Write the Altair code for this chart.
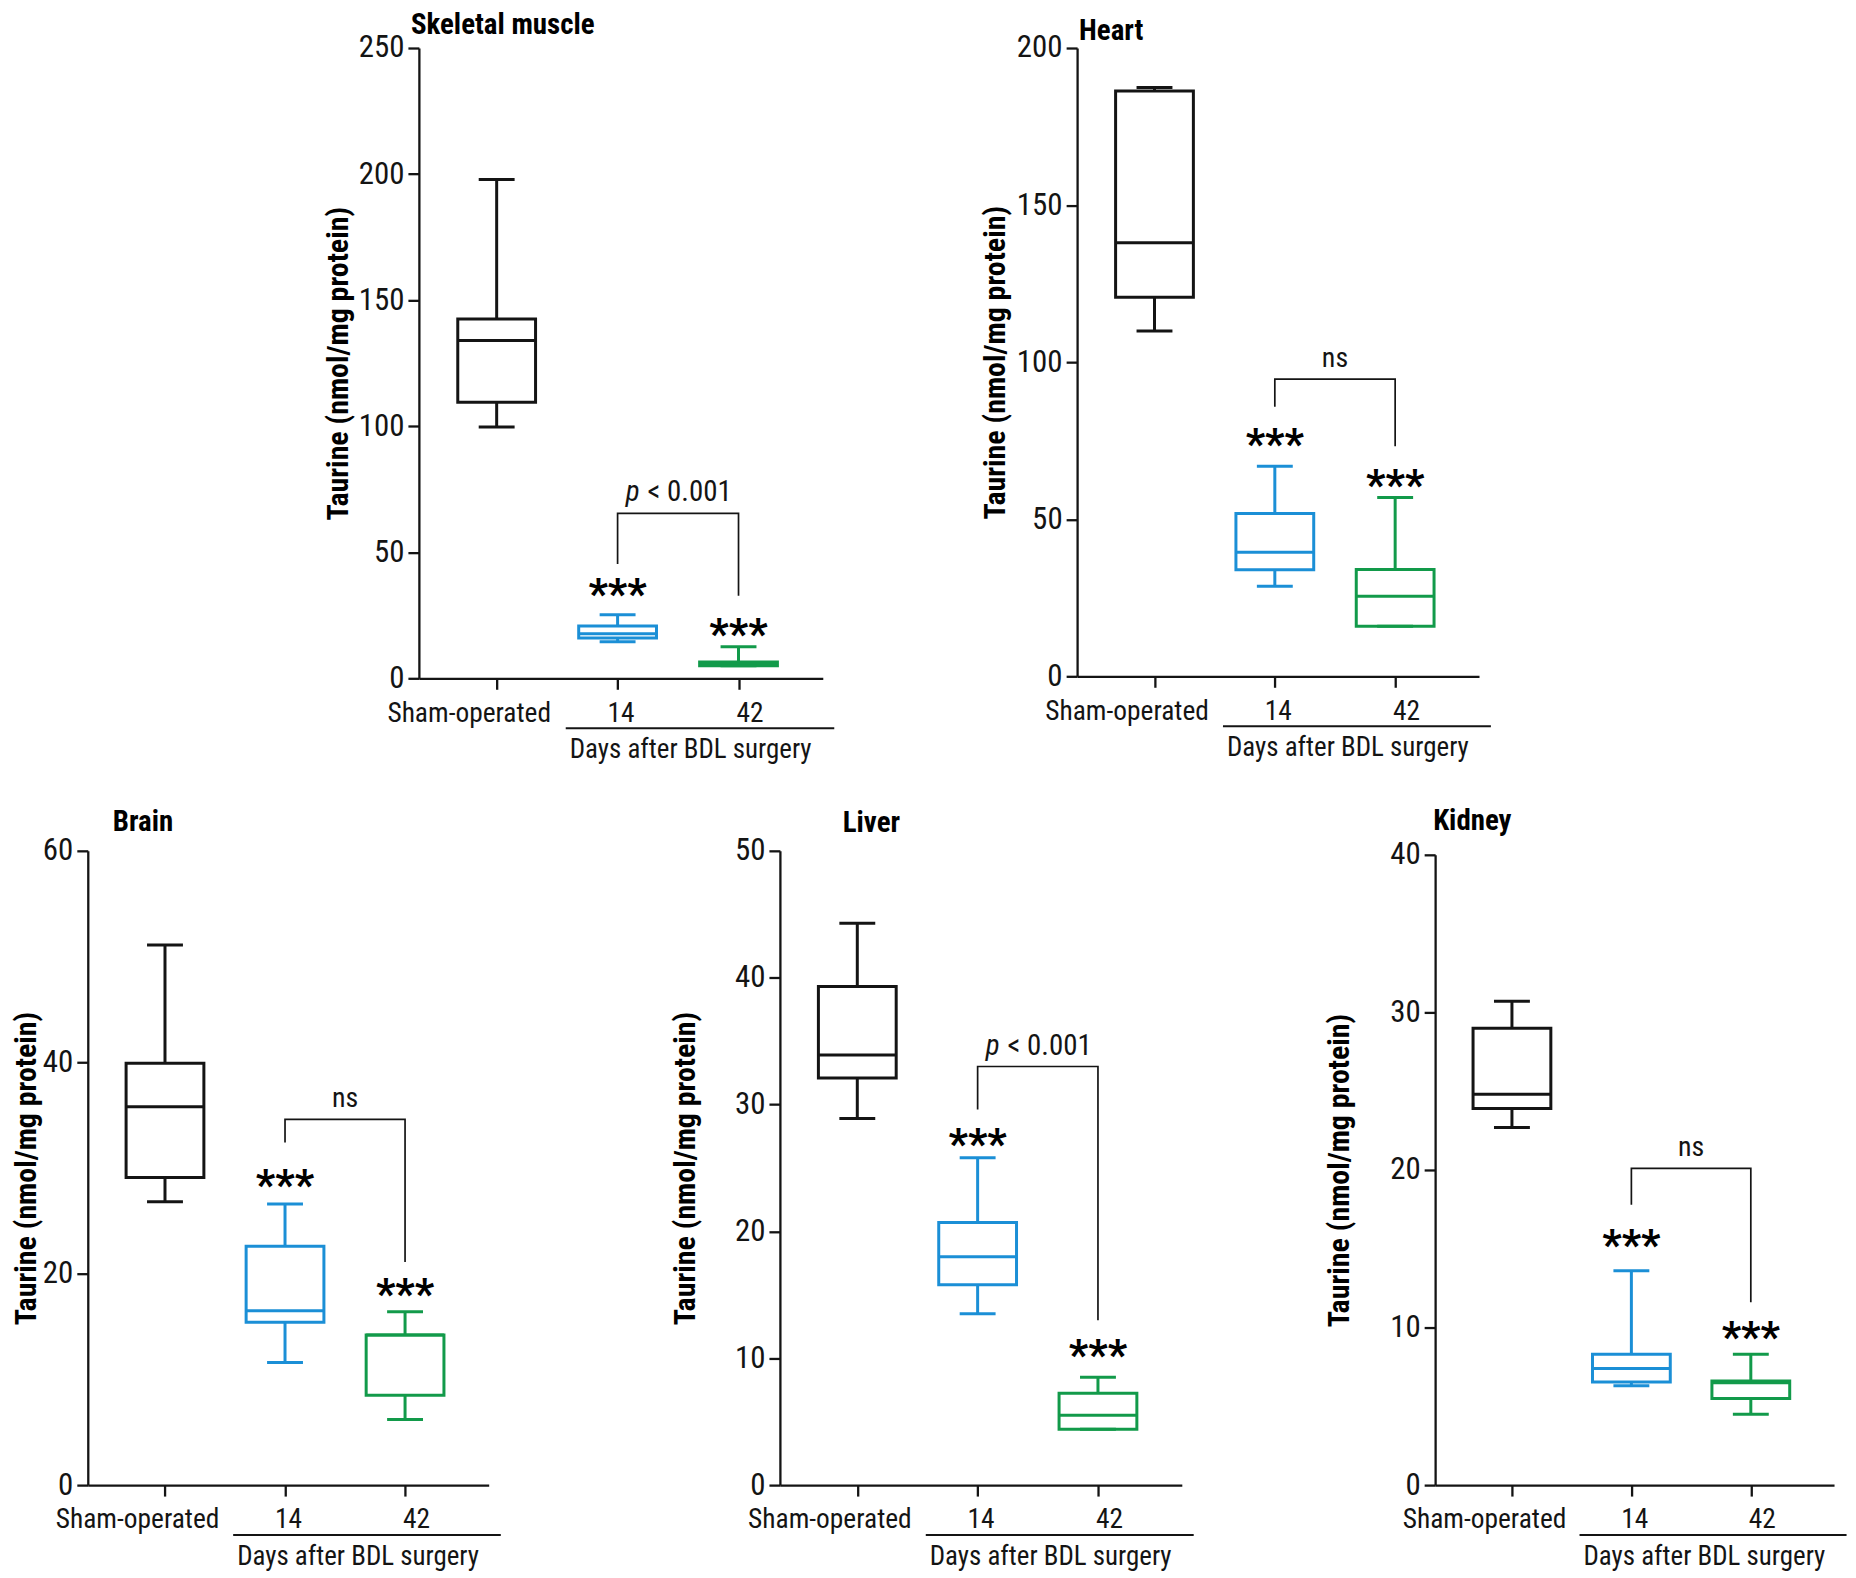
import altair as alt
import pandas as pd

FONT = "Liberation Sans Narrow, Arial Narrow, Roboto Condensed, DejaVu Sans Condensed, sans-serif"
INK = "#141414"

CATS = ["Sham-operated", "14", "42"]
COLORS = [INK, "#1b8fd6", "#129a4a"]
YTITLE = "Taurine (nmol/mg protein)"
XSUB = "Days after BDL surgery"

# ---- Skeletal muscle ----
SKM_LO = [99.7, 14.5, 5.0]
SKM_Q1 = [109.5, 16.0, 5.0]
SKM_MED = [134.0, 17.7, 5.8]
SKM_Q3 = [142.5, 20.7, 6.5]
SKM_HI = [197.8, 25.2, 12.5]
SKM_BRACKET = [45.3, 65.4, 65.4, 32.7]
SKM_STARS = [37.2, 21.5]

# ---- Heart ----
HRT_LO = [109.9, 28.7, 15.9]
HRT_Q1 = [120.7, 33.9, 15.9]
HRT_MED = [138.0, 39.5, 25.5]
HRT_Q3 = [186.3, 51.8, 34.0]
HRT_HI = [187.4, 66.9, 56.9]
HRT_BRACKET = [85.8, 94.6, 94.6, 73.2]
HRT_STARS = [77.0, 64.0]

# ---- Brain ----
BRN_LO = [26.8, 11.6, 6.2]
BRN_Q1 = [29.1, 15.4, 8.5]
BRN_MED = [35.8, 16.5, 14.2]
BRN_Q3 = [39.9, 22.6, 14.2]
BRN_HI = [51.1, 26.6, 16.4]
BRN_BRACKET = [32.4, 34.6, 34.6, 21.1]
BRN_STARS = [29.3, 19.0]

# ---- Liver ----
LIV_LO = [28.9, 13.5, 4.4]
LIV_Q1 = [32.1, 15.8, 4.4]
LIV_MED = [33.9, 18.0, 5.5]
LIV_Q3 = [39.3, 20.7, 7.25]
LIV_HI = [44.3, 25.8, 8.5]
LIV_BRACKET = [29.6, 33.0, 33.0, 13.0]
LIV_STARS = [27.7, 11.05]

# ---- Kidney ----
KID_LO = [22.7, 6.3, 4.5]
KID_Q1 = [23.9, 6.55, 5.5]
KID_MED = [24.8, 7.4, 6.5]
KID_Q3 = [29.0, 8.3, 6.6]
KID_HI = [30.7, 13.6, 8.3]
KID_BRACKET = [17.8, 20.1, 20.1, 11.6]
KID_STARS = [15.9, 10.0]

PAD = 0.67


def panel(title, lo, q1, med, q3, hi, bracket, stars, label, ymax, ystep,
          W, H, title_dx, title_dy, ytitle_x, ytop=0):
    box = pd.DataFrame({"group": CATS, "lo": lo, "q1": q1, "med": med,
                        "q3": q3, "hi": hi, "color": COLORS})
    xs = alt.Scale(type="point", domain=CATS, padding=PAD, align=0.48)
    ys = alt.Scale(domain=[0, ymax], nice=False, zero=True, range=[H, ytop])
    step = W / (2 + 2 * PAD)

    x_axis = alt.Axis(
        title=None, labelAngle=0, labelPadding=10, tickSize=11,
        labelFontSize=27.5,
        labelOffset={"condition": [
            {"test": "datum.value === 'Sham-operated'", "value": -28},
            {"test": "datum.value === '42'", "value": 11}], "value": 3},
    )
    y_axis = alt.Axis(
        values=list(range(0, ymax + 1, ystep)), title=YTITLE,
        titleX=-ytitle_x, titleY=(H + ytop) / 2, titleAlign="center",
        titleBaseline="alphabetic", titleAngle=270, titleFontSize=30,
        titleFontWeight="bold", labelPadding=4, tickSize=11,
        labelFontSize=31, grid=False,
    )
    X = alt.X("group:N", scale=xs, sort=CATS, axis=x_axis, title=None)
    col = alt.Color("color:N", scale=None, legend=None)

    def Y(f):
        return alt.Y(f, scale=ys, axis=y_axis, title=YTITLE)

    base = alt.Chart(box)
    whisk = base.mark_rule(strokeWidth=3).encode(
        x=X, y=Y("lo:Q"), y2="hi:Q", color=col)
    boxes = base.mark_bar(size=78, fill="white", strokeWidth=3).encode(
        x=X, y=Y("q1:Q"), y2="q3:Q",
        stroke=alt.Stroke("color:N", scale=None, legend=None))
    median = base.mark_tick(size=78, thickness=3, opacity=1).encode(
        x=X, y=Y("med:Q"), color=col)
    cap_lo = base.mark_tick(size=36, thickness=3, opacity=1).encode(
        x=X, y=Y("lo:Q"), color=col)
    cap_hi = base.mark_tick(size=36, thickness=3, opacity=1).encode(
        x=X, y=Y("hi:Q"), color=col)

    br = pd.DataFrame({"group": ["14", "14", "42", "42"], "v": bracket,
                       "o": [0, 1, 2, 3]})
    bracket_line = alt.Chart(br).mark_line(color=INK, strokeWidth=1.7).encode(
        x=X, y=Y("v:Q"), order="o:Q")

    st = pd.DataFrame({"group": ["14", "42"], "v": stars})
    star_txt = alt.Chart(st).mark_text(
        text="***", fontSize=43, fontWeight="bold", baseline="alphabetic",
        dy=24, color="#000").encode(x=X, y=Y("v:Q"))

    lab = pd.DataFrame({"group": ["14"], "group2": ["42"], "v": [bracket[1]]})
    if label == "ns":
        lab_layers = [alt.Chart(lab).mark_text(
            text="ns", fontSize=28, align="center", baseline="alphabetic",
            dx=step / 2, dy=-12, color=INK).encode(x=X, y=Y("v:Q"))]
    else:
        lab_layers = [
            alt.Chart(lab).mark_text(
                text="p", fontSize=29, fontStyle="italic", align="right",
                baseline="alphabetic", dx=22, dy=-12, color=INK
            ).encode(x=X, y=Y("v:Q")),
            alt.Chart(lab).mark_text(
                text="< 0.001", fontSize=29, align="left",
                baseline="alphabetic", dx=30, dy=-12, color=INK
            ).encode(x=X, y=Y("v:Q")),
        ]

    sep = alt.Chart(lab).mark_rule(
        strokeWidth=2, color=INK, xOffset=-52, x2Offset=96).encode(
        x=X, x2=alt.X2("group2:N"), y=alt.value(H + 50))
    sub = alt.Chart(lab).mark_text(
        text=XSUB, fontSize=27, align="left", baseline="alphabetic",
        dx=-48, color=INK).encode(x=X, y=alt.value(H + 80))
    ttl = alt.Chart(lab).mark_text(
        text=title, fontSize=29, fontWeight="bold", align="left",
        baseline="alphabetic", color="#000").encode(
        x=alt.value(title_dx), y=alt.value(title_dy))

    return alt.layer(whisk, boxes, median, cap_lo, cap_hi, bracket_line,
                     star_txt, *lab_layers, sep, sub, ttl).properties(
        width=W, height=H)


def spacer(w, h):
    return alt.Chart(pd.DataFrame({"s": [0]})).mark_point(
        size=0, opacity=0).encode(x=alt.value(0), y=alt.value(0)).properties(
        width=w, height=h)


skm = panel("Skeletal muscle", SKM_LO, SKM_Q1, SKM_MED, SKM_Q3, SKM_HI,
            SKM_BRACKET, SKM_STARS, "p", 250, 50, 405, 632, -8, -14, 72)
hrt = panel("Heart", HRT_LO, HRT_Q1, HRT_MED, HRT_Q3, HRT_HI,
            HRT_BRACKET, HRT_STARS, "ns", 200, 50, 403, 630, 2, -8, 73)
brn = panel("Brain", BRN_LO, BRN_Q1, BRN_MED, BRN_Q3, BRN_HI,
            BRN_BRACKET, BRN_STARS, "ns", 60, 20, 402, 636, 25, -20, 52)
liv = panel("Liver", LIV_LO, LIV_Q1, LIV_MED, LIV_Q3, LIV_HI,
            LIV_BRACKET, LIV_STARS, "p", 50, 10, 403, 636, 63, -19, 86)
kid = panel("Kidney", KID_LO, KID_Q1, KID_MED, KID_Q3, KID_HI,
            KID_BRACKET, KID_STARS, "ns", 40, 10, 400, 636, -2, -21, 87, 4)

top = alt.hconcat(spacer(332, 632), skm, spacer(255, 632), hrt, spacing=0,
                  bounds="flush").resolve_scale(x="independent", y="independent")
bot = alt.hconcat(brn, spacer(292, 636), liv, spacer(254, 636), kid, spacing=0,
                  bounds="flush").resolve_scale(x="independent", y="independent")

chart = alt.vconcat(top, bot, spacing=44).resolve_scale(
    x="independent", y="independent").properties(
    padding={"left": 4, "top": 1, "right": 0, "bottom": 0}
).configure_view(stroke=None).configure_axis(
    domainColor=INK, domainWidth=2.3, tickColor=INK, tickWidth=2.3,
    labelColor=INK, titleColor="#000", labelFont=FONT, titleFont=FONT,
    grid=False,
).configure_text(font=FONT)

chart.save("out.html", embed_options={"renderer": "svg", "actions": False})
